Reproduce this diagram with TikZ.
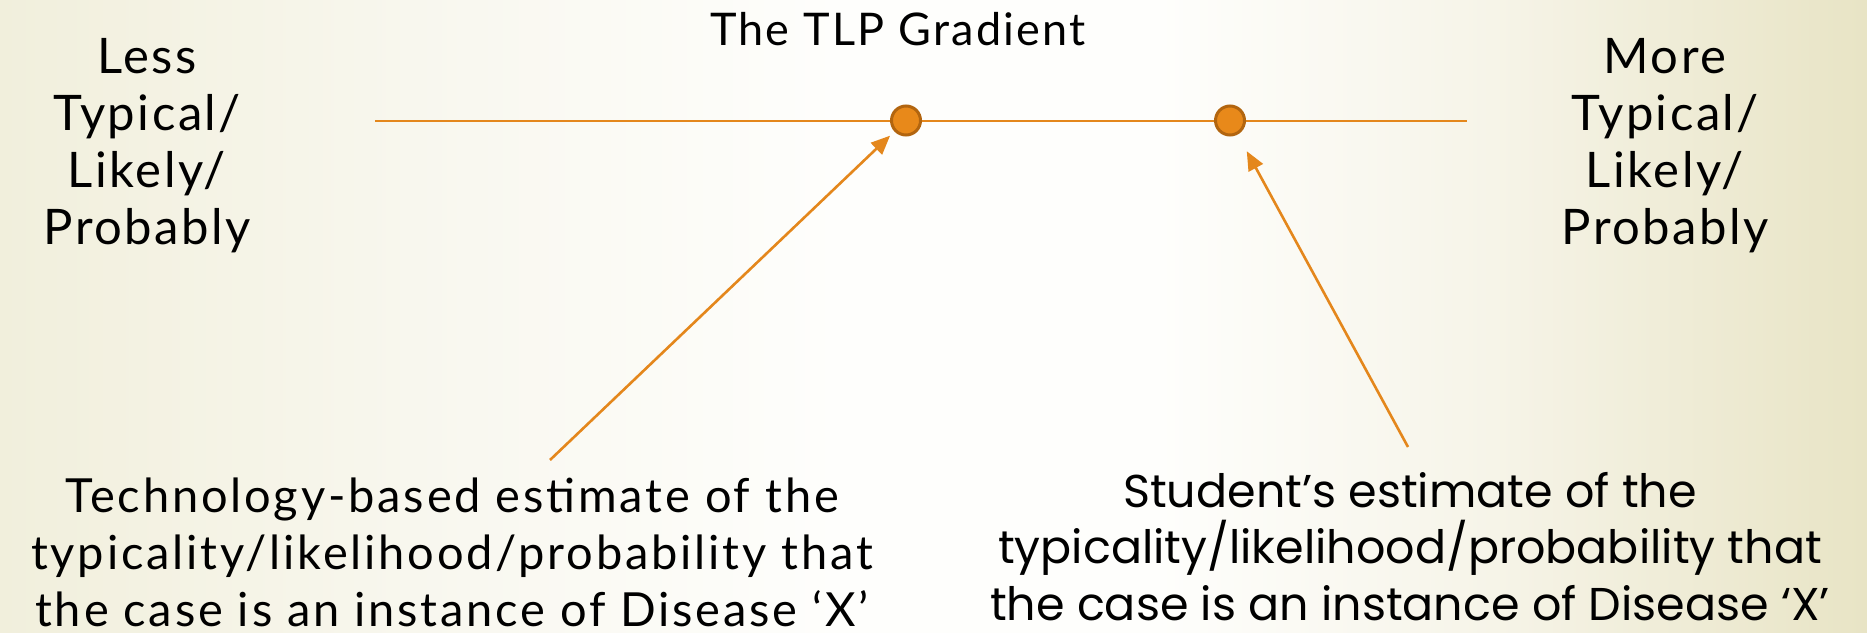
\documentclass[tikz,border=0pt]{standalone}
\usepackage{fontspec}
\setmainfont{Lato}
\newfontfamily\lblfont[LetterSpace=5]{Lato}
\newfontfamily\notefont[LetterSpace=6]{Lato}
\newfontfamily\geofont{Poppins}
\usetikzlibrary{arrows.meta}

\definecolor{orng}{HTML}{E4871C}
\definecolor{dotfill}{HTML}{E8891A}
\definecolor{dotedge}{HTML}{B2650F}
\definecolor{bgL}{HTML}{F1EFDC}
\definecolor{bgLM}{HTML}{F8F7EE}
\definecolor{bgM}{HTML}{FEFEFC}
\definecolor{bgRM}{HTML}{F6F4E8}
\definecolor{bgR}{HTML}{E8E4C5}

% paper tone: cream at the sides, nearly white in the middle
% (the shaded rectangle spans 25bp..75bp of the declared shading)
\pgfdeclarehorizontalshading{paper}{100bp}{%
  color(0bp)=(bgL); color(25bp)=(bgL); color(36bp)=(bgLM);
  color(47.5bp)=(bgM); color(56bp)=(bgM); color(65bp)=(bgRM);
  color(75bp)=(bgR); color(100bp)=(bgR)}

\tikzset{
  scaleline/.style={draw=orng, line width=2pt},
  pointer/.style={draw=orng, line width=2.6pt, -{Triangle[length=19pt,width=16pt]}},
  dot/.style={circle, fill=dotfill, draw=dotedge, line width=3pt,
              minimum size=29pt, inner sep=0pt},
  sidelabel/.style={font={\lblfont\fontsize{49pt}{57pt}\selectfont},
                    align=center, inner sep=0pt, anchor=north, text=black},
  leftnote/.style={font={\notefont\fontsize{47pt}{57pt}\selectfont},
                   align=center, inner sep=0pt, anchor=north, text=black},
  rightnote/.style={font={\geofont\fontsize{46pt}{56.5pt}\selectfont},
                    align=center, inner sep=0pt, anchor=north, text=black},
  heading/.style={font={\lblfont\fontsize{45pt}{50pt}\selectfont},
                  inner sep=0pt, anchor=base, text=black}
}

\begin{document}
\begin{tikzpicture}[x=1pt, y=-1pt]
  % page area and background
  \useasboundingbox (0,0) rectangle (1867,632);
  \shade[shading=paper] (0,0) rectangle (1867,632);

  % title
  \node[heading] (title) at (898,45) {The TLP Gradient};

  % the two ends of the scale
  \node[sidelabel] (less) at (147,28)
    {\rule{0pt}{45pt}Less\\Typical/\\Likely/\\Probably};
  \node[sidelabel] (more) at (1665,28)
    {\rule{0pt}{45pt}More\\Typical/\\Likely/\\Probably};

  % the scale with its two estimates
  \coordinate (scaleL) at (375,120.5);
  \coordinate (scaleR) at (1467,120.5);
  \draw[scaleline] (scaleL) -- (scaleR);
  \node[dot] (tech) at (906,120.5) {};
  \node[dot] (stud) at (1230,120.5) {};

  % explanations
  \node[leftnote] (technote) at (452,467)
    {\rule{0pt}{45pt}Technology-based estimate of the\\
     typicality/likelihood/probability that\\
     the case is an instance of Disease ‘X’};
  \node[rightnote] (studnote) at (1410,462)
    {\rule{0pt}{45pt}Student’s estimate of the\\
     typicality/likelihood/probability that\\
     the case is an instance of Disease ‘X’};

  % pointers from the explanations to the estimates
  \coordinate (techtail) at (550,460);
  \coordinate (studtail) at (1408,447);
  \draw[pointer, shorten >=6pt] (techtail) -- (tech);
  \draw[pointer, shorten >=19pt] (studtail) -- (stud);
\end{tikzpicture}
\end{document}
